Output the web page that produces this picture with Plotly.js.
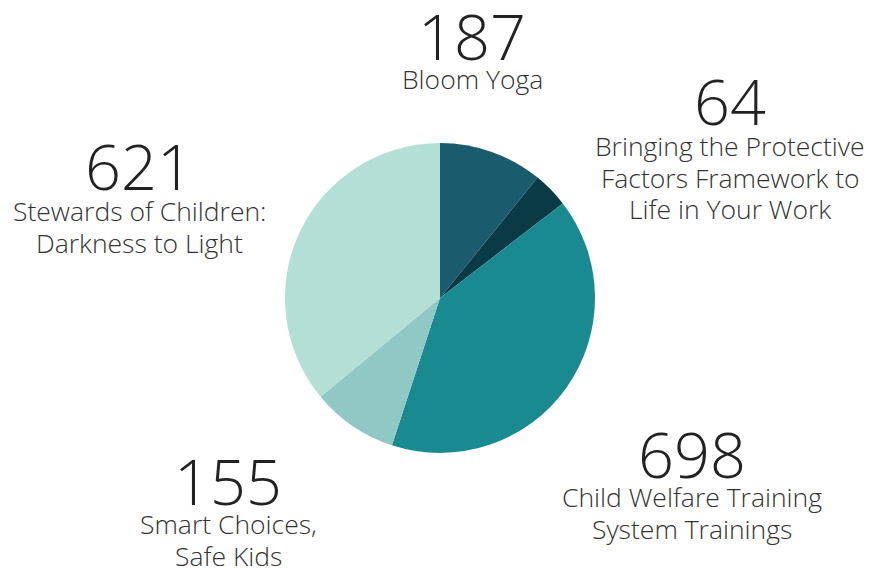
<!DOCTYPE html>
<html><head><meta charset="utf-8">
<script src="https://cdn.plot.ly/plotly-3.0.1.min.js"></script>
<style>html,body{margin:0;padding:0;background:#fff}</style>
</head><body><div id="chart" style="width:884px;height:569px"></div>
<script>
const categories = ["Bloom Yoga", "Bringing the Protective<br>Factors Framework to<br>Life in Your Work", "Child Welfare Training<br>System Trainings", "Smart Choices,<br>Safe Kids", "Stewards of Children:<br>Darkness to Light"];
const values = [187, 64, 698, 155, 621];
const colors = ["#1a5c6e", "#0b3a47", "#1a8a91", "#8fc8c4", "#b3dfd5"];
// label layout (pixels from top-left): number centre x, number centre y, first name line centre y
const labelX = [472, 730, 692, 228, 139];
const numY = [35, 100, 453, 480, 165];
const nameY = [79, 146, 497, 524, 211];
const lineGap = 31.5;

const W = 884, H = 569;
const annotations = [];
values.forEach((v, i) => {
  annotations.push({x: labelX[i] / W, y: 1 - numY[i] / H, xref: 'paper', yref: 'paper', showarrow: false,
    text: String(v), font: {family: 'Open Sans', size: 63, color: '#222', weight: 300}, xanchor: 'center', yanchor: 'middle'});
  categories[i].split('<br>').forEach((line, k) => {
    annotations.push({x: labelX[i] / W, y: 1 - (nameY[i] + k * lineGap) / H, xref: 'paper', yref: 'paper', showarrow: false,
      text: line, font: {family: 'Open Sans', size: 26.5, color: '#333', weight: 300}, xanchor: 'center', yanchor: 'middle', align: 'center'});
  });
});

Plotly.newPlot('chart', [{
  type: 'pie', values: values, labels: categories, sort: false, direction: 'clockwise', rotation: 0,
  marker: {colors: colors, line: {width: 0}}, textinfo: 'none', hoverinfo: 'none',
  domain: {x: [285/W, 595/W], y: [1-453/H, 1-143/H]}
}], {
  width: W, height: H, margin: {l: 0, r: 0, t: 0, b: 0}, showlegend: false,
  paper_bgcolor: '#fff', annotations: annotations
}, {staticPlot: true});
</script></body></html>
